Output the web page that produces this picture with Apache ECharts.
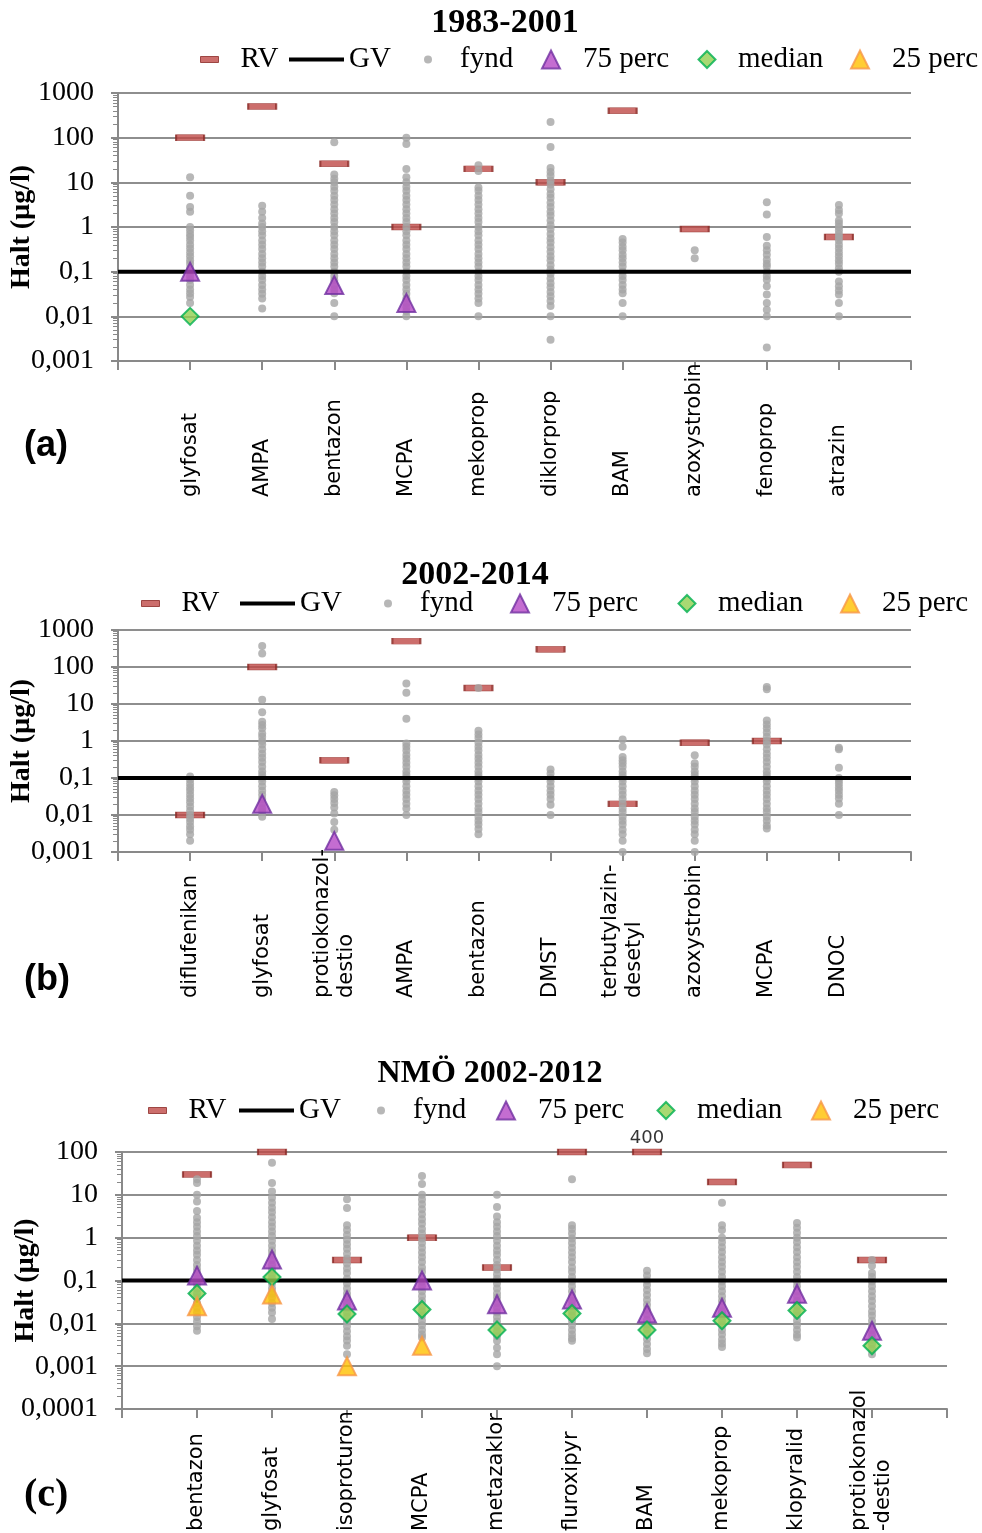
<!DOCTYPE html>
<html>
<head>
<meta charset="utf-8">
<title>Halt (µg/l)</title>
<script src="https://cdn.jsdelivr.net/npm/echarts@6/dist/echarts.min.js"></script>
<style>
html, body { margin: 0; padding: 0; background: #fff; }
#chart { width: 982px; height: 1533px; }
</style>
</head>
<body>
<div id="chart"></div>
<script>
// ---------- data ----------
const legendNames = ['RV', 'GV', 'fynd', '75 perc', 'median', '25 perc'];
const gvValue = 0.1;

// (a) 1983-2001
const catsA = ['glyfosat', 'AMPA', 'bentazon', 'MCPA', 'mekoprop', 'diklorprop', 'BAM', 'azoxystrobin', 'fenoprop', 'atrazin'];
const rvA = [100, 500, 26, 1, 20, 10, 400, 0.9, null, 0.6];
const rvLabelA = [null, null, null, null, null, null, null, null, null, null];
const p75A = [0.1, null, 0.05, 0.02, null, null, null, null, null, null];
const medA = [0.01, null, null, null, null, null, null, null, null, null];
const p25A = [null, null, null, null, null, null, null, null, null, null];
const fyndA = [
  [13, 5, 2.8, 2.2, 1, 0.85, 0.7, 0.6, 0.5, 0.4, 0.33, 0.27, 0.22, 0.18, 0.15, 0.12, 0.1, 0.08, 0.065, 0.05, 0.04, 0.033, 0.027, 0.02],
  [3, 2.2, 1.6, 1.2, 1, 0.8, 0.65, 0.5, 0.4, 0.32, 0.25, 0.2, 0.16, 0.13, 0.1, 0.08, 0.065, 0.05, 0.04, 0.032, 0.025, 0.015],
  [79, 15, 12, 10, 8, 6.5, 5, 4, 3.2, 2.5, 2, 1.6, 1.3, 1, 0.8, 0.65, 0.5, 0.4, 0.32, 0.25, 0.2, 0.16, 0.13, 0.1, 0.08, 0.065, 0.05, 0.04, 0.033, 0.02, 0.01],
  [100, 72, 20, 13, 10, 8, 6.5, 5, 4, 3.2, 2.5, 2, 1.6, 1.3, 1, 0.8, 0.65, 0.5, 0.4, 0.32, 0.25, 0.2, 0.16, 0.13, 0.1, 0.08, 0.065, 0.05, 0.04, 0.032, 0.025, 0.02, 0.016, 0.013, 0.01],
  [24, 18, 7.7, 6.5, 5, 4, 3.2, 2.5, 2, 1.6, 1.3, 1, 0.8, 0.65, 0.5, 0.4, 0.32, 0.25, 0.2, 0.16, 0.13, 0.1, 0.08, 0.065, 0.05, 0.04, 0.032, 0.025, 0.02, 0.01],
  [224, 62, 21, 17, 14, 11, 9, 7, 5.5, 4.5, 3.5, 2.8, 2.2, 1.8, 1.4, 1.1, 0.9, 0.7, 0.55, 0.45, 0.35, 0.28, 0.22, 0.18, 0.14, 0.11, 0.09, 0.07, 0.055, 0.045, 0.035, 0.028, 0.022, 0.017, 0.01, 0.003],
  [0.54, 0.45, 0.36, 0.3, 0.24, 0.2, 0.16, 0.13, 0.1, 0.08, 0.065, 0.05, 0.04, 0.033, 0.02, 0.01],
  [0.3, 0.2],
  [3.6, 1.9, 0.6, 0.38, 0.3, 0.24, 0.185, 0.15, 0.13, 0.1, 0.08, 0.066, 0.047, 0.031, 0.02, 0.014, 0.01, 0.002],
  [3.1, 2.4, 2, 1.4, 1.2, 1, 0.85, 0.7, 0.6, 0.5, 0.4, 0.33, 0.27, 0.22, 0.18, 0.15, 0.12, 0.1, 0.06, 0.047, 0.038, 0.031, 0.02, 0.01]
];

// (b) 2002-2014
const catsB = ['diflufenikan', 'glyfosat', 'protiokonazol-\ndestio', 'AMPA', 'bentazon', 'DMST', 'terbutylazin-\ndesetyl', 'azoxystrobin', 'MCPA', 'DNOC'];
const rvB = [0.01, 100, 0.3, 500, 27, 300, 0.02, 0.9, 1, null];
const rvLabelB = [null, null, null, null, null, null, null, null, null, null];
const p75B = [null, 0.02, 0.002, null, null, null, null, null, null, null];
const medB = [null, null, null, null, null, null, null, null, null, null];
const p25B = [null, null, null, null, null, null, null, null, null, null];
const fyndB = [
  [0.11, 0.09, 0.07, 0.055, 0.045, 0.035, 0.028, 0.022, 0.017, 0.013, 0.01, 0.008, 0.0065, 0.005, 0.004, 0.003, 0.002],
  [370, 230, 13, 6, 3.3, 2.7, 2.2, 1.6, 1.3, 1, 0.8, 0.6, 0.45, 0.35, 0.27, 0.2, 0.15, 0.12, 0.1, 0.08, 0.06, 0.045, 0.035, 0.027, 0.02, 0.015, 0.012, 0.009],
  [0.042, 0.034, 0.027, 0.021, 0.016, 0.011, 0.0065, 0.004],
  [36, 20, 4, 0.85, 0.7, 0.55, 0.42, 0.33, 0.26, 0.2, 0.15, 0.12, 0.1, 0.08, 0.06, 0.045, 0.035, 0.027, 0.02, 0.015, 0.01],
  [27, 1.9, 1.5, 1.2, 0.9, 0.7, 0.55, 0.42, 0.33, 0.26, 0.2, 0.15, 0.12, 0.1, 0.08, 0.06, 0.045, 0.035, 0.027, 0.02, 0.015, 0.012, 0.009, 0.007, 0.0055, 0.0042, 0.003],
  [0.17, 0.13, 0.1, 0.08, 0.06, 0.045, 0.035, 0.027, 0.019, 0.01],
  [1.1, 0.7, 0.37, 0.3, 0.25, 0.2, 0.15, 0.12, 0.1, 0.08, 0.06, 0.045, 0.035, 0.027, 0.02, 0.015, 0.012, 0.009, 0.007, 0.0055, 0.004, 0.003, 0.002, 0.001],
  [0.41, 0.25, 0.2, 0.15, 0.12, 0.1, 0.08, 0.06, 0.045, 0.035, 0.027, 0.02, 0.015, 0.012, 0.009, 0.007, 0.0055, 0.004, 0.003, 0.002, 0.001],
  [29, 25, 3.6, 2.8, 2.2, 1.7, 1.3, 1, 0.8, 0.6, 0.45, 0.35, 0.27, 0.2, 0.15, 0.12, 0.1, 0.08, 0.06, 0.045, 0.035, 0.027, 0.02, 0.015, 0.012, 0.009, 0.007, 0.0052, 0.0043],
  [0.66, 0.6, 0.19, 0.1, 0.085, 0.07, 0.055, 0.045, 0.035, 0.028, 0.02, 0.01]
];

// (c) NMÖ 2002-2012
const catsC = ['bentazon', 'glyfosat', 'isoproturon', 'MCPA', 'metazaklor', 'fluroxipyr', 'BAM', 'mekoprop', 'klopyralid', 'protiokonazol\n-destio'];
const rvC = [30, 100, 0.3, 1, 0.2, 100, 100, 20, 50, 0.3];
const rvLabelC = [null, null, null, null, null, null, '400', null, null, null];
const p75C = [0.13, 0.31, 0.034, 0.1, 0.028, 0.036, 0.017, 0.023, 0.049, 0.0067];
const medC = [0.05, 0.12, 0.0165, 0.021, 0.007, 0.017, 0.007, 0.0115, 0.02, 0.003];
const p25C = [0.025, 0.047, 0.001, 0.003, null, null, null, null, null, null];
const fyndC = [
  [23, 19, 10, 7, 4.2, 2.9, 2.3, 1.8, 1.4, 1.1, 0.85, 0.65, 0.5, 0.4, 0.3, 0.23, 0.18, 0.14, 0.11, 0.085, 0.065, 0.05, 0.04, 0.03, 0.023, 0.018, 0.014, 0.011, 0.0085, 0.0067],
  [56, 19, 12, 8.6, 6.5, 5, 3.9, 3, 2.3, 1.8, 1.4, 1.1, 0.85, 0.65, 0.5, 0.4, 0.3, 0.23, 0.18, 0.14, 0.11, 0.085, 0.065, 0.05, 0.04, 0.03, 0.023, 0.018, 0.0126],
  [7.9, 4.9, 1.95, 1.5, 1.15, 0.9, 0.7, 0.55, 0.42, 0.32, 0.25, 0.19, 0.15, 0.11, 0.085, 0.065, 0.05, 0.04, 0.03, 0.023, 0.018, 0.014, 0.011, 0.0085, 0.0065, 0.005, 0.004, 0.003, 0.0019],
  [27.5, 18, 10, 7.8, 6, 4.6, 3.5, 2.7, 2.1, 1.6, 1.25, 0.95, 0.75, 0.58, 0.45, 0.35, 0.27, 0.2, 0.16, 0.12, 0.095, 0.073, 0.056, 0.043, 0.033, 0.025, 0.019, 0.015, 0.0115, 0.009, 0.007, 0.0055, 0.0047],
  [10, 5.2, 3.1, 2.3, 1.8, 1.4, 1.1, 0.85, 0.65, 0.5, 0.4, 0.3, 0.23, 0.18, 0.14, 0.11, 0.085, 0.065, 0.05, 0.04, 0.03, 0.023, 0.018, 0.014, 0.011, 0.0085, 0.0065, 0.005, 0.0039, 0.0027, 0.0019, 0.001],
  [23, 1.95, 1.6, 1.25, 0.95, 0.75, 0.58, 0.45, 0.35, 0.27, 0.2, 0.16, 0.12, 0.095, 0.073, 0.056, 0.043, 0.033, 0.025, 0.019, 0.015, 0.0115, 0.009, 0.007, 0.0055, 0.0045, 0.0039],
  [0.17, 0.13, 0.1, 0.078, 0.06, 0.046, 0.035, 0.027, 0.021, 0.016, 0.012, 0.0095, 0.0073, 0.0056, 0.0043, 0.0033, 0.0025, 0.002],
  [6.5, 1.95, 1.5, 1, 0.78, 0.6, 0.46, 0.35, 0.27, 0.21, 0.16, 0.12, 0.095, 0.073, 0.056, 0.043, 0.033, 0.025, 0.019, 0.015, 0.0115, 0.009, 0.007, 0.0055, 0.0042, 0.0034, 0.0028],
  [2.2, 1.7, 1.3, 1, 0.78, 0.6, 0.46, 0.35, 0.27, 0.21, 0.16, 0.12, 0.095, 0.073, 0.056, 0.043, 0.033, 0.025, 0.019, 0.015, 0.0115, 0.009, 0.007, 0.0055, 0.0047],
  [0.3, 0.22, 0.15, 0.12, 0.095, 0.073, 0.056, 0.043, 0.033, 0.025, 0.019, 0.015, 0.0115, 0.009, 0.007, 0.0055, 0.0042, 0.0033, 0.0025, 0.0019]
];

// y tick labels (decimal comma)
const yLabelsAB = ['0,001', '0,01', '0,1', '1', '10', '100', '1000'];
const yLabelsC = ['0,0001', '0,001', '0,01', '0,1', '1', '10', '100'];

// ---------- styling / layout ----------
const SERIF = '"Liberation Serif", "Times New Roman", serif';
const SANS = '"DejaVu Sans", Verdana, sans-serif';
const AXIS_GREY = '#898989';

const panels = [
  {
    title: '1983-2001', titleX: 505, titleTop: 6, titleSize: 34,
    letter: '(a)', letterTop: 428, letterFont: '"Liberation Sans", Arial, sans-serif', letterSize: 36,
    grid: { left: 118, top: 93, width: 793, height: 268 },
    yMin: 0.001, yMax: 1000, yLabels: yLabelsAB, labelMargin: 136,
    legendY: 60, legendTextX: [240, 349, 460, 582, 737, 891],
    cats: catsA, rv: rvA, rvLabel: rvLabelA, fynd: fyndA, p75: p75A, med: medA, p25: p25A
  },
  {
    title: '2002-2014', titleX: 475, titleTop: 558, titleSize: 34,
    letter: '(b)', letterTop: 962, letterFont: '"Liberation Sans", Arial, sans-serif', letterSize: 36,
    grid: { left: 118, top: 630, width: 793, height: 222 },
    yMin: 0.001, yMax: 1000, yLabels: yLabelsAB, labelMargin: 146,
    legendY: 604, legendTextX: [181, 300, 420, 551, 717, 881],
    cats: catsB, rv: rvB, rvLabel: rvLabelB, fynd: fyndB, p75: p75B, med: medB, p25: p25B
  },
  {
    title: 'NMÖ 2002-2012', titleX: 490, titleTop: 1058, titleSize: 32,
    letter: '(c)', letterTop: 1476, letterFont: SERIF, letterSize: 40,
    grid: { left: 122, top: 1152, width: 825, height: 257 },
    yMin: 0.0001, yMax: 100, yLabels: yLabelsC, labelMargin: 122,
    legendY: 1111, legendTextX: [188, 299, 413, 537, 696, 852],
    cats: catsC, rv: rvC, rvLabel: rvLabelC, fynd: fyndC, p75: p75C, med: medC, p25: p25C
  }
];

// w/h: legend item box, iw: width of the icon actually drawn inside it
const legendIcons = {
  'RV': { w: 52, h: 6, iw: 18, icon: 'path://M0,0H3V1H0Z', style: { color: '#bf4a47', borderColor: '#8b2a27', borderWidth: 1 } },
  'GV': { w: 55, h: 4, iw: 55, icon: 'path://M0,0H55V4H0Z', style: { color: '#000', borderWidth: 0 } },
  'fynd': { w: 54, h: 8, iw: 8, icon: 'circle', style: { color: '#a5a5a5', borderWidth: 0 } },
  '75 perc': { w: 54, h: 18, iw: 18, icon: 'path://M1,0L2,2L0,2Z', style: { color: '#b548c6', borderColor: '#7030a0', borderWidth: 2 } },
  'median': { w: 52, h: 17, iw: 17, icon: 'path://M1,0L2,1L1,2L0,1Z', style: { color: '#92d050', borderColor: '#00b050', borderWidth: 2 } },
  '25 perc': { w: 54, h: 18, iw: 18, icon: 'path://M1,0L2,2L0,2Z', style: { color: '#ffc000', borderColor: '#f79646', borderWidth: 2 } }
};

function pointData(values) {
  const out = [];
  values.forEach(function (v, i) {
    if (v != null) out.push([i + 1, v]);
  });
  return out;
}

const option = {
  animation: false,
  backgroundColor: '#fff',
  title: [],
  legend: [],
  grid: [],
  xAxis: [],
  yAxis: [],
  series: []
};

panels.forEach(function (p, k) {
  option.title.push({
    text: p.title, left: p.titleX, top: p.titleTop, textAlign: 'center', padding: 0,
    textStyle: { fontFamily: SERIF, fontWeight: 'bold', fontSize: p.titleSize, color: '#000' }
  });
  option.title.push({
    text: p.letter, left: 24, top: p.letterTop, padding: 0,
    textStyle: { fontFamily: p.letterFont, fontWeight: 'bold', fontSize: p.letterSize, color: '#000' }
  });

  legendNames.forEach(function (name, j) {
    const li = legendIcons[name];
    option.legend.push({
      data: [{ name: name, icon: li.icon }],
      left: p.legendTextX[j] - 5 - (li.w + li.iw) / 2,
      top: p.legendY - 15,
      itemWidth: li.w,
      itemHeight: li.h,
      padding: 0,
      selectedMode: false,
      itemStyle: li.style,
      textStyle: { fontFamily: SERIF, fontSize: 29, color: '#000' }
    });
  });

  option.grid.push(Object.assign({ containLabel: false, outerBoundsMode: 'none' }, p.grid));

  option.xAxis.push({
    type: 'category', gridIndex: k, boundaryGap: false,
    data: [''].concat(p.cats, [' ']),
    axisLine: { lineStyle: { color: AXIS_GREY, width: 2 } },
    axisTick: { show: true, interval: 0, length: 9, lineStyle: { color: AXIS_GREY, width: 2 } },
    axisLabel: {
      interval: 0, rotate: 90, align: 'left', verticalAlign: 'middle',
      margin: p.labelMargin, fontFamily: SANS, fontSize: 21, lineHeight: 24, color: '#000'
    },
    splitLine: { show: false }
  });

  const expMin = Math.round(Math.log10(p.yMin));
  option.yAxis.push({
    type: 'log', logBase: 10, gridIndex: k, min: p.yMin, max: p.yMax, splitNumber: 6,
    name: 'Halt (µg/l)', nameLocation: 'middle', nameGap: 82, nameMoveOverlap: false,
    nameTextStyle: { fontFamily: SERIF, fontWeight: 'bold', fontSize: 28, color: '#000' },
    axisLine: { show: true, lineStyle: { color: AXIS_GREY, width: 2 } },
    axisTick: { show: true, length: 7, lineStyle: { color: AXIS_GREY, width: 2 } },
    minorTick: { show: true, splitNumber: 9, length: 5, lineStyle: { color: AXIS_GREY, width: 1 } },
    axisLabel: {
      margin: 24, fontFamily: SERIF, fontSize: 28, color: '#000',
      formatter: function (v) { return p.yLabels[Math.round(Math.log10(v)) - expMin]; }
    },
    splitLine: { show: true, lineStyle: { color: '#8e8e8e', width: 2 } }
  });

  // RV bars
  const rvData = [];
  p.rv.forEach(function (v, i) {
    if (v == null) return;
    const item = { value: [i + 1, v] };
    if (p.rvLabel[i]) {
      item.label = {
        show: true, formatter: p.rvLabel[i], position: 'top', distance: 1,
        fontFamily: SANS, fontSize: 18, color: '#000'
      };
    }
    rvData.push(item);
  });
  option.series.push({
    name: 'RV', type: 'scatter', xAxisIndex: k, yAxisIndex: k, clip: false, z: 2,
    symbol: 'rect', symbolSize: [28, 6],
    itemStyle: { color: '#bf4a47', borderColor: '#8b2a27', borderWidth: 1 },
    data: rvData
  });

  // fynd dots
  const fyndData = [];
  p.fynd.forEach(function (vals, i) {
    vals.forEach(function (v) { fyndData.push([i + 1, v]); });
  });
  option.series.push({
    name: 'fynd', type: 'scatter', xAxisIndex: k, yAxisIndex: k, clip: false, z: 3,
    symbol: 'circle', symbolSize: 8,
    itemStyle: { color: '#a5a5a5' },
    data: fyndData
  });

  // GV line
  option.series.push({
    name: 'GV', type: 'line', xAxisIndex: k, yAxisIndex: k, z: 4,
    symbol: 'none', color: '#000',
    lineStyle: { color: '#000', width: 4 },
    data: [[0, gvValue], [p.cats.length + 1, gvValue]]
  });

  option.series.push({
    name: '75 perc', type: 'scatter', xAxisIndex: k, yAxisIndex: k, clip: false, z: 5,
    symbol: 'triangle', symbolSize: 18,
    itemStyle: { color: '#b548c6', borderColor: '#7030a0', borderWidth: 2 },
    data: pointData(p.p75)
  });
  option.series.push({
    name: 'median', type: 'scatter', xAxisIndex: k, yAxisIndex: k, clip: false, z: 6,
    symbol: 'diamond', symbolSize: 17,
    itemStyle: { color: '#92d050', borderColor: '#00b050', borderWidth: 2 },
    data: pointData(p.med)
  });
  option.series.push({
    name: '25 perc', type: 'scatter', xAxisIndex: k, yAxisIndex: k, clip: false, z: 7,
    symbol: 'triangle', symbolSize: 18,
    itemStyle: { color: '#ffc000', borderColor: '#f79646', borderWidth: 2 },
    data: pointData(p.p25)
  });
});

const myChart = echarts.init(document.getElementById('chart'), null, { renderer: 'canvas' });
myChart.setOption(option);
</script>
</body>
</html>
